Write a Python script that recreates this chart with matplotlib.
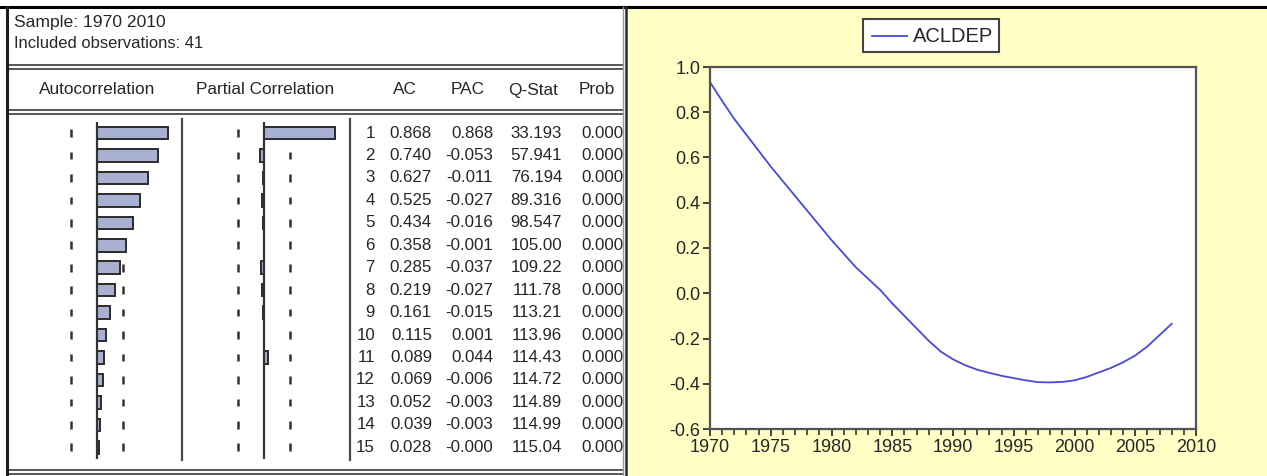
import numpy as np
import matplotlib
matplotlib.use("Agg")
import matplotlib.pyplot as plt
from matplotlib.patches import Rectangle
from matplotlib.lines import Line2D

plt.rcParams['font.family'] = ['Liberation Sans', 'DejaVu Sans']

# ---------------- data ----------------
sample_text = "Sample: 1970 2010"
n_obs = 41
lags = list(range(1, 16))
ac = [0.868, 0.740, 0.627, 0.525, 0.434, 0.358, 0.285, 0.219, 0.161, 0.115,
      0.089, 0.069, 0.052, 0.039, 0.028]
pac = [0.868, -0.053, -0.011, -0.027, -0.016, -0.001, -0.037, -0.027, -0.015,
       0.001, 0.044, -0.006, -0.003, -0.003, -0.000]
qstat = ["33.193", "57.941", "76.194", "89.316", "98.547", "105.00", "109.22",
         "111.78", "113.21", "113.96", "114.43", "114.72", "114.89", "114.99", "115.04"]
prob = [0.000] * 15
pac_labels = ["0.868", "-0.053", "-0.011", "-0.027", "-0.016", "-0.001", "-0.037",
              "-0.027", "-0.015", "0.001", "0.044", "-0.006", "-0.003", "-0.003", "-0.000"]

years = list(range(1970, 2009))
acldep = [0.933, 0.850, 0.770, 0.700, 0.630, 0.560, 0.495, 0.430, 0.365, 0.300,
          0.235, 0.175, 0.115, 0.065, 0.015, -0.045, -0.100, -0.155, -0.210, -0.258,
          -0.292, -0.318, -0.338, -0.352, -0.365, -0.375, -0.385, -0.393, -0.394, -0.392,
          -0.385, -0.370, -0.350, -0.330, -0.305, -0.275, -0.235, -0.185, -0.135]
series_name = "ACLDEP"

# ---------------- figure ----------------
W, H = 1267, 476
fig = plt.figure(figsize=(W / 100, H / 100), dpi=100)
fig.patch.set_facecolor('white')

def frac(x0, y0, x1, y1):
    """pixel box (top-left origin) -> figure fraction rect"""
    return [x0 / W, 1 - y1 / H, (x1 - x0) / W, (y1 - y0) / H]

bg = fig.add_axes([0, 0, 1, 1])
bg.set_xlim(0, W)
bg.set_ylim(H, 0)
bg.axis('off')

TXT = '#262626'
LINE = '#4a4a4a'

# right yellow panel
bg.add_patch(Rectangle((627, 7), W - 627, H - 7, facecolor='#FFFFC6', edgecolor='none', zorder=0))
# top black line
bg.plot([0, W], [7, 7], color='black', lw=2.2, zorder=3)
# left panel borders
bg.plot([7, 7], [7, H], color='#1a1a1a', lw=2.2, zorder=3)
bg.plot([623, 623], [7, H], color='#9a9a9a', lw=1.0, zorder=3)
bg.plot([626, 626], [7, H], color='#2a2a2a', lw=1.8, zorder=3)
# double lines
for yy in (65, 69, 110, 114, 470, 474):
    bg.plot([8, 622], [yy, yy], color='#555555', lw=1.4, zorder=2)

# header texts
bg.text(14, 22, sample_text, fontsize=12.6, color=TXT, va='center', ha='left')
bg.text(14, 44, f"Included observations: {n_obs}", fontsize=11.9, color=TXT, va='center', ha='left')
hy = 90
hfs = 12.4
bg.text(97, hy, "Autocorrelation", fontsize=hfs, color=TXT, ha='center', va='center')
bg.text(265, hy, "Partial Correlation", fontsize=hfs, color=TXT, ha='center', va='center')
bg.text(405, hy, "AC", fontsize=hfs, color=TXT, ha='center', va='center')
bg.text(468, hy, "PAC", fontsize=hfs, color=TXT, ha='center', va='center')
bg.text(533, hy, "Q-Stat", fontsize=hfs, color=TXT, ha='center', va='center')
bg.text(597, hy, "Prob", fontsize=hfs, color=TXT, ha='center', va='center')

# separators
for xx in (182, 350):
    bg.plot([xx, xx], [119, 460], color=LINE, lw=1.6, zorder=2)

# rows of numbers
row0, dy = 133, 22.45
for i, lag in enumerate(lags):
    y = row0 + dy * i
    fs = 12.2
    bg.text(375, y, str(lag), fontsize=fs, color=TXT, ha='right', va='center')
    bg.text(432, y, f"{ac[i]:.3f}", fontsize=fs, color=TXT, ha='right', va='center')
    bg.text(493, y, pac_labels[i], fontsize=fs, color=TXT, ha='right', va='center')
    bg.text(562, y, qstat[i], fontsize=fs, color=TXT, ha='right', va='center')
    bg.text(623, y, f"{prob[i]:.3f}", fontsize=fs, color=TXT, ha='right', va='center')

# correlogram bar axes
bound = 2 / np.sqrt(n_obs)
scale = 81.8
ytop = row0 - dy / 2
ybot = row0 + dy * 14.5
for cx, vals in ((97, ac), (264, pac)):
    a = fig.add_axes(frac(cx - scale, ytop, cx + scale, ybot))
    a.set_xlim(-1, 1)
    a.set_ylim(15.5, 0.5)
    a.axis('off')
    a.patch.set_alpha(0)
    a.vlines([-bound, bound] * 15, np.repeat(lags, 2) - 0.17, np.repeat(lags, 2) + 0.17,
             color='#333333', lw=1.8, zorder=1)
    a.barh(lags, vals, height=0.56, left=0, color='#A9B1D2', edgecolor='#2b2b2b',
           linewidth=1.4, zorder=2)
    a.axvline(0, color='#333333', lw=1.6, zorder=3)

# ---------------- line chart ----------------
ax = fig.add_axes(frac(710, 67, 1196, 429))
ax.plot(years, acldep, color='#4848DC', lw=1.3, label=series_name)
ax.set_xlim(1970, 2010)
ax.set_ylim(-0.6, 1.0)
ax.set_xticks(range(1970, 2011, 5))
ax.set_xticks(range(1970, 2011, 1), minor=True)
ax.set_yticks(np.arange(-0.6, 1.01, 0.2))
ax.set_yticklabels([f"{v:.1f}" for v in np.arange(-0.6, 1.01, 0.2)])
ax.tick_params(axis='both', which='major', direction='out', length=5, width=1.3,
               labelsize=13, colors='#333333', labelcolor=TXT, pad=2)
ax.tick_params(axis='x', which='minor', direction='out', length=4, width=1.2, colors='#333333')
for s in ax.spines.values():
    s.set_color('#555555')
    s.set_linewidth(1.6)
ax.set_facecolor('white')

# legend box
lx0, ly0, lx1, ly1 = 863, 19, 999, 52
bg.add_patch(Rectangle((lx0, ly0), lx1 - lx0, ly1 - ly0, facecolor='white',
                       edgecolor='#444444', lw=1.5, zorder=4))
bg.add_line(Line2D([872, 907], [36, 36], color='#4848DC', lw=1.3, zorder=5))
bg.text(913, 36, series_name, fontsize=14.5, color=TXT, ha='left', va='center', zorder=5)

fig.savefig('out.png', dpi=100, facecolor='white')
